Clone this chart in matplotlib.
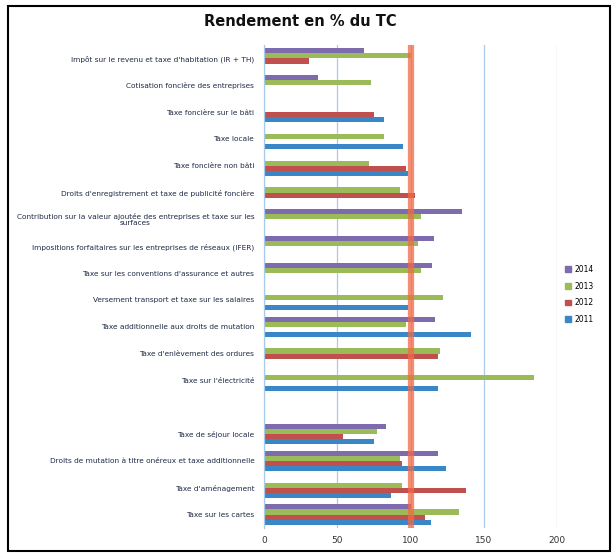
import numpy as np
import matplotlib
matplotlib.use("Agg")
import matplotlib.pyplot as plt
from matplotlib.patches import Rectangle, Patch

title = "Rendement en % du TC"

categories = [
    "Impôt sur le revenu et taxe d'habitation (IR + TH)",
    "Cotisation foncière des entreprises",
    "Taxe foncière sur le bâti",
    "Taxe locale",
    "Taxe foncière non bâti",
    "Droits d'enregistrement et taxe de publicité foncière",
    "Contribution sur la valeur ajoutée des entreprises et taxe sur les\nsurfaces",
    "Impositions forfaitaires sur les entreprises de réseaux (IFER)",
    "Taxe sur les conventions d'assurance et autres",
    "Versement transport et taxe sur les salaires",
    "Taxe additionnelle aux droits de mutation",
    "Taxe d'enlèvement des ordures",
    "Taxe sur l'électricité",
    "",
    "Taxe de séjour locale",
    "Droits de mutation à titre onéreux et taxe additionnelle",
    "Taxe d'aménagement",
    "Taxe sur les cartes",
]

series_labels = ["2011", "2012", "2013", "2014"]

v2011 = [np.nan, np.nan, 82, 95, 98, np.nan, np.nan, np.nan, np.nan, 98, 141, np.nan, 119, np.nan, 75, 124, 87, 114]
v2012 = [31, np.nan, 75, np.nan, 97, 103, np.nan, np.nan, np.nan, np.nan, np.nan, 119, np.nan, np.nan, 54, 94, 138, 110]
v2013 = [100, 73, np.nan, 82, 72, 93, 107, 105, 107, 122, 97, 120, 184, np.nan, 77, 93, 94, 133]
v2014 = [68, 37, np.nan, np.nan, np.nan, np.nan, 135, 116, 115, np.nan, 117, np.nan, np.nan, np.nan, 83, 119, np.nan, 100]

reference_value = 100
xticks = [0, 50, 100, 150, 200]

colors = ["#3A87C8", "#C0504D", "#9BBB59", "#7E6BAE"]

W, H = 616, 555
fig = plt.figure(figsize=(W / 100, H / 100), dpi=100)
ax = fig.add_axes([264 / W, 1 - 528 / H, (557 - 264) / W, (528 - 45) / H])

y = np.arange(len(categories))
bh = 0.19
series = [v2011, v2012, v2013, v2014]
for i, (vals, c) in enumerate(zip(series, colors)):
    offs = (1.5 - i) * bh
    v = np.array(vals, dtype=float)
    mask = ~np.isnan(v)
    ax.barh(y[mask] + offs, v[mask], height=bh, color=c, zorder=2)

ax.axvline(reference_value, color="#F26A45", lw=4.5, alpha=0.75, zorder=3)

ax.set_xlim(0, 200)
ax.set_ylim(len(categories) - 0.5, -0.5)
ax.set_xticks(xticks)
ax.set_xticklabels([str(t) for t in xticks], fontsize=6.5, color="#333333")
ax.set_yticks(y)
ax.set_yticklabels(categories, fontsize=5.3, color="#1F2A44", linespacing=1.0)
for lab in ax.get_yticklabels():
    lab.set_multialignment("center")
ax.tick_params(axis="both", length=0, pad=7)
ax.tick_params(axis="x", pad=6)
ax.grid(axis="x", color="#A9CBEA", lw=0.9, zorder=0)
for s in ["top", "right", "bottom"]:
    ax.spines[s].set_visible(False)
ax.spines["left"].set_color("#A9CBEA")
ax.spines["left"].set_linewidth(0.9)

fig.text(300 / W, 1 - 22 / H, title, ha="center", va="center",
         fontsize=10.5, fontweight="bold", color="#111111")

handles = [Patch(color=c) for c in colors][::-1]
labels = series_labels[::-1]
fig.legend(handles, labels, loc="upper left", bbox_to_anchor=(558 / W, 1 - 258 / H),
           frameon=False, fontsize=5.5, handlelength=0.8, handleheight=0.8,
           labelspacing=1.0, handletextpad=0.5)

fig.add_artist(Rectangle((8 / W, 1 - 551 / H), (610 - 8) / W, (551 - 6) / H,
                         transform=fig.transFigure, fill=False, ec="black", lw=1.5))

fig.savefig("out.png", dpi=100)
